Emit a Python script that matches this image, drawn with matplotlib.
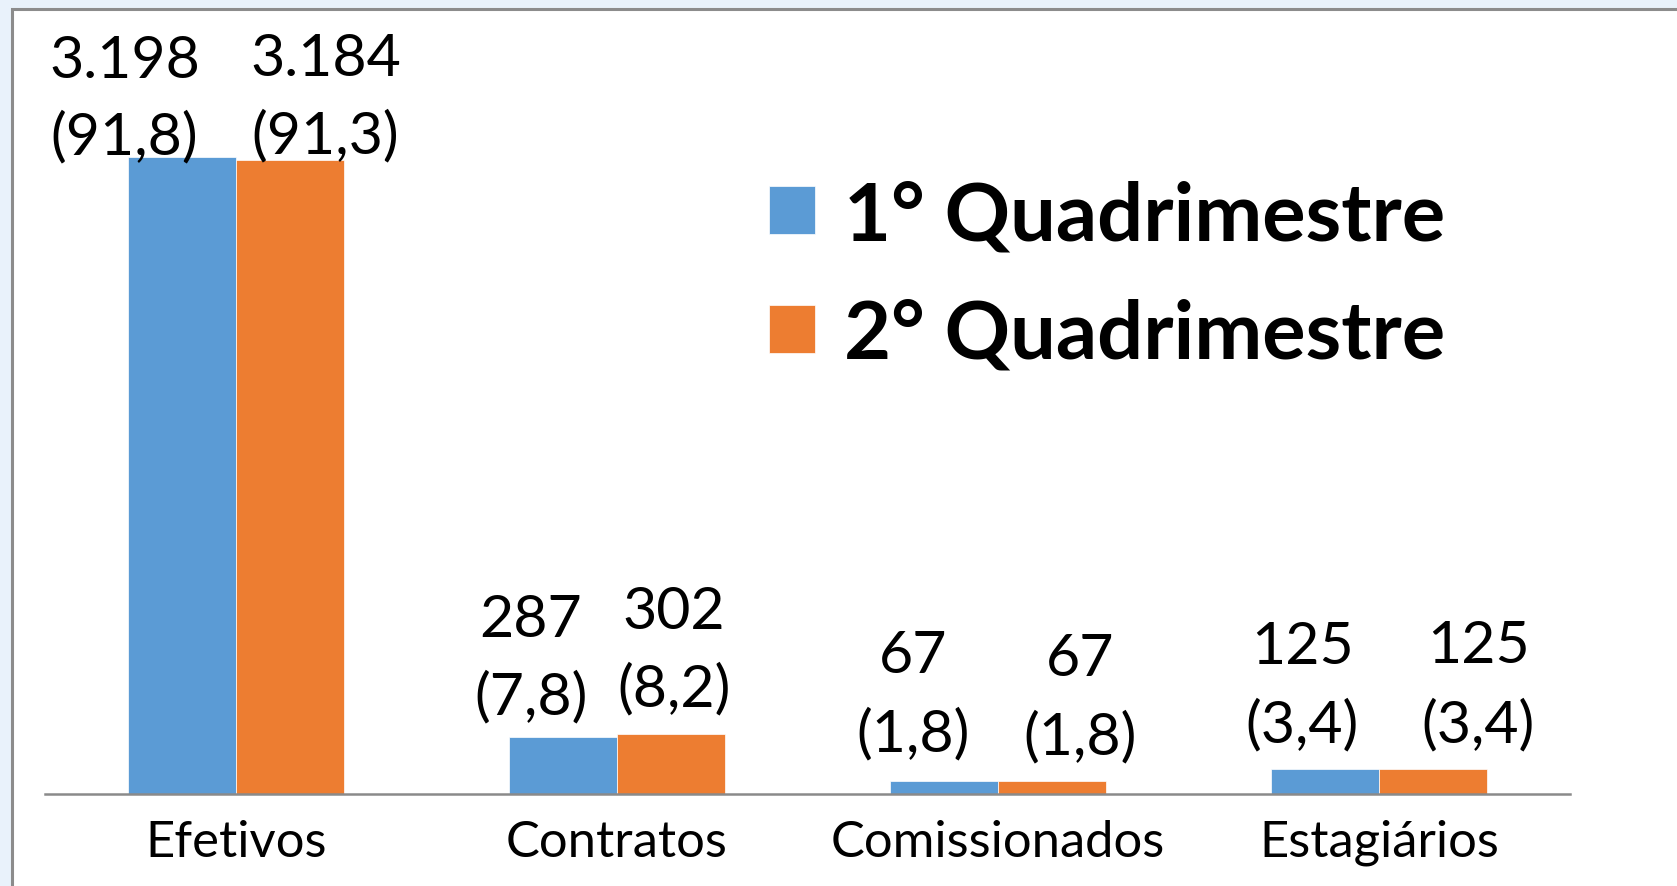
import matplotlib
matplotlib.use("Agg")
import matplotlib.pyplot as plt
from matplotlib.patches import Rectangle
import numpy as np

categories = ["Efetivos", "Contratos", "Comissionados", "Estagiários"]
q1_values = [3198, 287, 67, 125]
q2_values = [3184, 302, 67, 125]
q1_pct = [91.8, 7.8, 1.8, 3.4]
q2_pct = [91.3, 8.2, 1.8, 3.4]
series_names = ["1° Quadrimestre", "2° Quadrimestre"]

# label offsets in pixels from bar top center: (dx, dy_line1, dy_line2)
q1_offsets = [(-57, 97, 20), (-32, 117, 40), (-31, 125, 47), (-23, 123, 45)]
q2_offsets = [(36, 101, 24), (3, 122, 45), (28, 122, 44), (45, 124, 45)]

W, H = 1677, 887
DPI = 100
plt.rcParams['font.family'] = ['Lato', 'DejaVu Sans']

fig = plt.figure(figsize=(W / DPI, H / DPI), dpi=DPI, facecolor='#e9f2fb')
# white frame
fig.patches.append(Rectangle((11.5 / W, -0.1), 1.2, 1 - 10 / H + 0.1,
                             transform=fig.transFigure, facecolor='white',
                             edgecolor='#8c8c8c', linewidth=2.2, zorder=-5))

ax_top = 795 - 3500 * (637 / 3198)
ax = fig.add_axes([45 / W, (H - 795) / H, 1525 / W, (795 - ax_top) / H])
ax.set_facecolor('none')

x = np.arange(len(categories))
bw = 0.283
c1, c2 = '#5B9BD5', '#ED7D31'
b1 = ax.bar(x - bw / 2, q1_values, bw, color=c1, edgecolor='white', linewidth=0.5, label=series_names[0])
b2 = ax.bar(x + bw / 2, q2_values, bw, color=c2, edgecolor='white', linewidth=0.5, label=series_names[1])

ax.set_xlim(-0.5, len(categories) - 0.5)
ax.set_ylim(0, 3500)
for s in ['top', 'left', 'right']:
    ax.spines[s].set_visible(False)
ax.spines['bottom'].set_color('#8a8a8a')
ax.spines['bottom'].set_linewidth(1.8)
ax.set_yticks([])
ax.set_xticks(x)
ax.set_xticklabels(categories, fontsize=36.5)
ax.tick_params(axis='x', length=0, pad=18)


def fmt_val(v):
    return f"{v:,}".replace(",", ".")


def fmt_pct(p):
    return "(" + f"{p:.1f}".replace(".", ",") + ")"


for xs, vals, pcts, offs in [(x - bw / 2, q1_values, q1_pct, q1_offsets),
                             (x + bw / 2, q2_values, q2_pct, q2_offsets)]:
    for xi, v, p, (dx, d1, d2) in zip(xs, vals, pcts, offs):
        ax.annotate(fmt_val(v), xy=(xi, v), xytext=(dx, d1), textcoords='offset pixels',
                    ha='center', va='center', fontsize=42.5, annotation_clip=False)
        ax.annotate(fmt_pct(p), xy=(xi, v), xytext=(dx, d2), textcoords='offset pixels',
                    ha='center', va='center', fontsize=42.5, annotation_clip=False)

leg = ax.legend(loc='upper left', bbox_to_anchor=(769 / W, 1 - 180 / H),
                bbox_transform=fig.transFigure, frameon=False,
                prop={'family': ['Lato', 'DejaVu Sans'], 'weight': 'bold', 'size': 58.5},
                handlelength=0.56, handleheight=0.53, handletextpad=0.36,
                labelspacing=0.55, borderpad=0, borderaxespad=0)

fig.savefig("out.png", dpi=DPI, facecolor=fig.get_facecolor())
